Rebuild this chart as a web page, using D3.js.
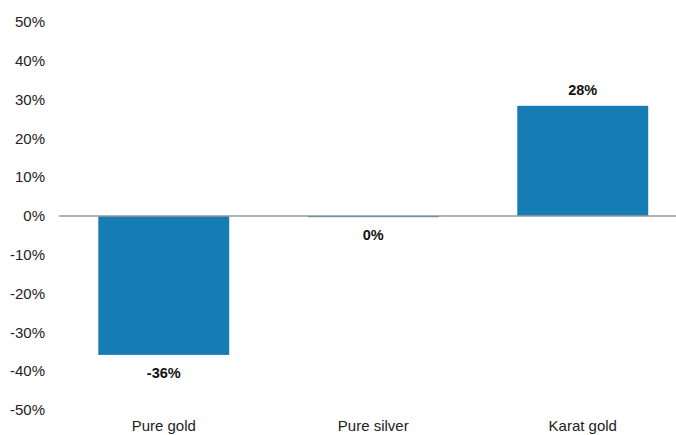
<!DOCTYPE html>
<html><head><meta charset="utf-8">
<script src="https://cdn.jsdelivr.net/npm/d3@7"></script>
<style>body{margin:0;background:#fff}svg{display:block;font-family:"Liberation Sans",Arial,sans-serif}</style>
</head><body>
<svg id="c" width="676" height="435"></svg>
<script>
const categories = ["Pure gold", "Pure silver", "Karat gold"];
const values = [-35.8, -0.3, 28.4];
const valueLabels = ["-36%", "0%", "28%"];
const tickValues = [50, 40, 30, 20, 10, 0, -10, -20, -30, -40, -50];

const svg = d3.select("#c");
const x = d3.scaleBand().domain(categories).range([59, 687.5]).paddingInner(0.375).paddingOuter(0.1875);
const y = d3.scaleLinear().domain([-50, 50]).range([410, 22]);

// y tick labels
svg.append("g").selectAll("text").data(tickValues).join("text")
  .attr("x", 45).attr("y", d => y(d)).attr("dy", "0.35em")
  .attr("text-anchor", "end").attr("font-size", 15).attr("fill", "#222")
  .text(d => d + "%");

// bars
svg.append("g").selectAll("rect").data(values).join("rect")
  .attr("x", (d, i) => x(categories[i]))
  .attr("width", x.bandwidth())
  .attr("y", d => y(Math.max(0, d)))
  .attr("height", d => Math.abs(y(d) - y(0)))
  .attr("fill", "#157db4");

// zero line
svg.append("line").attr("x1", 59).attr("x2", 676).attr("y1", y(0)).attr("y2", y(0))
  .attr("stroke", "#999").attr("stroke-width", 1.5);

// value labels
svg.append("g").selectAll("text").data(values).join("text")
  .attr("x", (d, i) => x(categories[i]) + x.bandwidth() / 2)
  .attr("y", d => d > 0 ? y(d) - 11 : y(d) + 23)
  .attr("text-anchor", "middle").attr("font-size", 14.5).attr("font-weight", "bold").attr("fill", "#111")
  .text((d, i) => valueLabels[i]);

// category labels
svg.append("g").selectAll("text").data(categories).join("text")
  .attr("x", d => x(d) + x.bandwidth() / 2).attr("y", 431)
  .attr("text-anchor", "middle").attr("font-size", 15).attr("fill", "#222")
  .text(d => d);
</script>
</body></html>
